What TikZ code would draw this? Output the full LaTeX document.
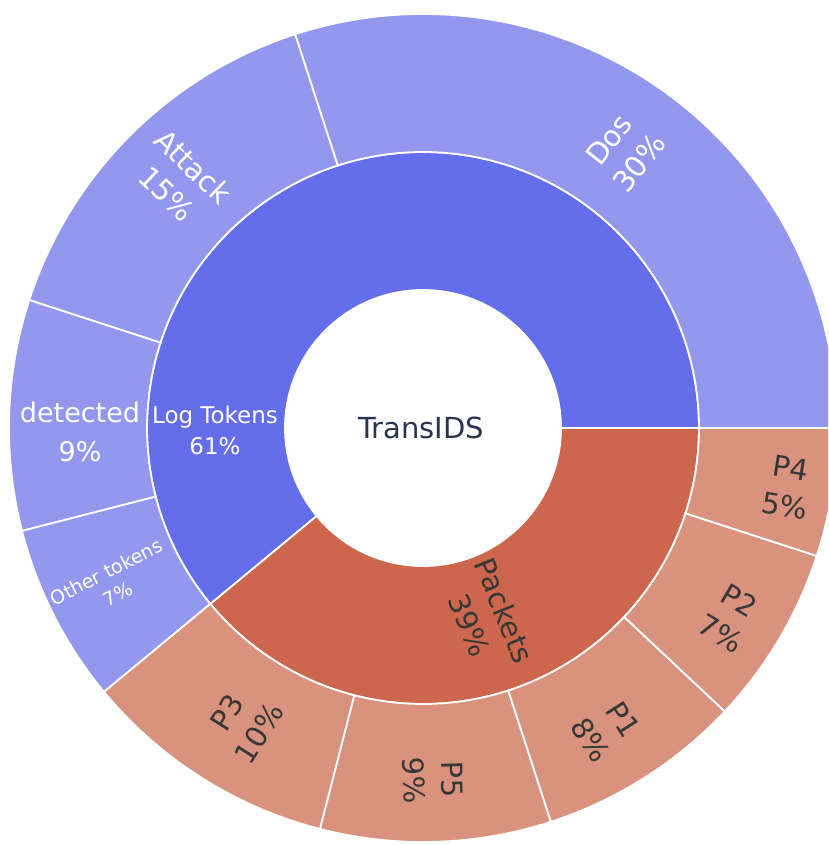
\documentclass[tikz,border=0pt]{standalone}
\usepackage{fontspec}
\newfontfamily\dv{DejaVu Sans}
\definecolor{inblue}{RGB}{100,109,234}
\definecolor{outblue}{RGB}{147,152,238}
\definecolor{inred}{RGB}{204,102,76}
\definecolor{outred}{RGB}{216,146,126}
\definecolor{darktxt}{RGB}{55,55,55}
\definecolor{roottxt}{RGB}{42,52,78}
\newcommand{\sect}[5]{%
  \fill[#5, draw=white, line width=1.8pt] (#1:#3) arc[start angle=#1, end angle=#2, radius=#3]
    -- (#2:#4) arc[start angle=#2, end angle=#1, radius=#4] -- cycle;}
\tikzset{
  lbl/.style={align=center, inner sep=0pt, font=\dv\fontsize{29}{38}\selectfont},
  wlbl/.style={lbl, text=white},
  dlbl/.style={lbl, text=darktxt}
}
\begin{document}
\begin{tikzpicture}[x=1pt,y=1pt]
\useasboundingbox (-423,-417) rectangle (405,428);
\fill[white] (-423,-417) rectangle (405,428);
\clip (-423,-417) rectangle (405,428);
% inner ring
\sect{0}{219.6}{138pt}{276pt}{inblue}
\sect{219.6}{360}{138pt}{276pt}{inred}
% outer ring: Log Tokens children
\sect{0}{108}{276pt}{414pt}{outblue}
\sect{108}{162}{276pt}{414pt}{outblue}
\sect{162}{194.4}{276pt}{414pt}{outblue}
\sect{194.4}{219.6}{276pt}{414pt}{outblue}
% outer ring: Packets children
\sect{219.6}{255.6}{276pt}{414pt}{outred}
\sect{255.6}{288}{276pt}{414pt}{outred}
\sect{288}{316.8}{276pt}{414pt}{outred}
\sect{316.8}{342}{276pt}{414pt}{outred}
\sect{342}{360}{276pt}{414pt}{outred}
% root
\fill[white] (0,0) circle[radius=138pt];
\node[lbl, text=roottxt, font=\dv\fontsize{29}{36}\selectfont] (root) at (-2,0) {TransIDS};
% labels
\node[wlbl, font=\dv\fontsize{23}{31}\selectfont] (logt) at (-208,-2) {Log Tokens\\61\%};
\node[dlbl, rotate=-68] (pack) at (64,-190) {Packets\\39\%};
\node[wlbl, rotate=52] (dos) at (54:342pt) {Dos\\30\%};
\node[wlbl, rotate=-44] (att) at (134.4:347pt) {Attack\\15\%};
\node[wlbl, font=\dv\fontsize{27}{39}\selectfont] (det) at (-343,-4) {detected\\9\%};
\node[wlbl, rotate=27, font=\dv\fontsize{19}{25}\selectfont] (oth) at (-311,-155) {Other tokens\\7\%};
\node[dlbl, rotate=57.6] (p3) at (-180,-295) {P3\\10\%};
\node[dlbl, rotate=-88.2] (p5) at (10,-352) {P5\\9\%};
\node[dlbl, rotate=-57.6] (p1) at (184,-302) {P1\\8\%};
\node[dlbl, rotate=-30.6] (p2) at (307,-189) {P2\\7\%};
\node[dlbl, rotate=-9] (p4) at (365,-59) {P4\\5\%};
\end{tikzpicture}
\end{document}
